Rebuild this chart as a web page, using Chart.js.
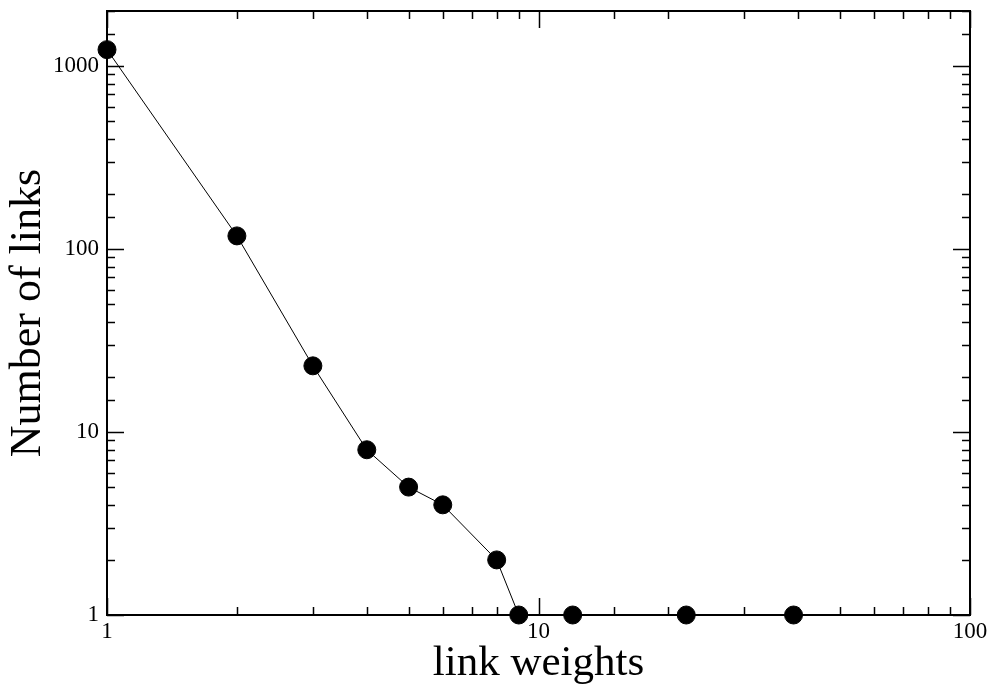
<!DOCTYPE html>
<html>
<head>
<meta charset="utf-8">
<script src="https://cdn.jsdelivr.net/npm/chart.js@4"></script>
<style>
  html, body { margin: 0; padding: 0; background: #fff; }
  #wrap { width: 991px; height: 688px; }
</style>
</head>
<body>
<div id="wrap"><canvas id="weights-chart"></canvas></div>
<script>
// link weight distribution (log-log)
var weights = [1, 2, 3, 4, 5, 6, 8, 9, 12, 22, 39];
var linkCounts = [1230, 118, 23, 8, 5, 4, 2, 1, 1, 1, 1];
var xRange = [1, 100];
var yRange = [1, 2000];
var xTitle = "link weights";
var yTitle = "Number of links";

var points = weights.map(function(w, i){ return {x: w, y: linkCounts[i]}; });

function isDecade(v){
    var l = Math.log10(v);
    return Math.abs(l - Math.round(l)) < 1e-9;
}

// inward ticks on all four sides (xmgrace style)
var innerTicks = {
    id: "innerTicks",
    afterDraw: function(chart){
        var ctx = chart.ctx, a = chart.chartArea;
        var xs = chart.scales.x, ys = chart.scales.y;
        ctx.save();
        ctx.strokeStyle = "#000";
        ctx.lineWidth = 1.5;
        ctx.beginPath();
        xs.ticks.forEach(function(t){
            var px = Math.round(xs.getPixelForValue(t.value)) + 0.5;
            var len = isDecade(t.value) ? 17 : 8;
            ctx.moveTo(px, a.bottom); ctx.lineTo(px, a.bottom - len);
            ctx.moveTo(px, a.top); ctx.lineTo(px, a.top + len);
        });
        ys.ticks.forEach(function(t){
            var py = Math.round(ys.getPixelForValue(t.value)) + 0.5;
            var len = isDecade(t.value) ? 17 : 8;
            ctx.moveTo(a.left, py); ctx.lineTo(a.left + len, py);
            ctx.moveTo(a.right, py); ctx.lineTo(a.right - len, py);
        });
        ctx.stroke();
        ctx.lineWidth = 2;
        ctx.strokeRect(a.left, a.top, a.right - a.left, a.bottom - a.top);
        ctx.restore();
    }
};

var labelFont = {family: "'Liberation Serif', 'Times New Roman', serif", size: 23};
var titleFont = {family: "'Liberation Serif', 'Times New Roman', serif", size: 43, lineHeight: 1.1};

var config = {
    type: "scatter",
    data: {
        datasets: [{
            data: points,
            showLine: true,
            borderColor: "#000",
            borderWidth: 1,
            backgroundColor: "#000",
            pointRadius: 9,
            pointHoverRadius: 9,
            clip: false
        }]
    },
    options: {
        responsive: true,
        maintainAspectRatio: false,
        animation: false,
        layout: { padding: { top: 11, right: 21, left: 0, bottom: 0 } },
        plugins: { legend: { display: false }, tooltip: { enabled: false } },
        scales: {
            x: {
                type: "logarithmic",
                position: "bottom",
                min: xRange[0],
                max: xRange[1],
                grid: { display: false, drawTicks: false },
                border: { display: false },
                afterFit: function(s){ s.height = 73; s.paddingLeft = 0; s.paddingRight = 0; },
                ticks: {
                    autoSkip: false,
                    maxRotation: 0,
                    padding: 3,
                    color: "#000",
                    font: labelFont,
                    callback: function(v){ return isDecade(v) ? String(v) : ""; }
                },
                title: { display: true, text: xTitle, color: "#000", font: titleFont, padding: {top: 0, bottom: 1} }
            },
            y: {
                type: "logarithmic",
                position: "left",
                min: yRange[0],
                max: yRange[1],
                grid: { display: false, drawTicks: false },
                border: { display: false },
                afterFit: function(s){ s.width = 107; s.paddingTop = 0; s.paddingBottom = 0; },
                ticks: {
                    autoSkip: false,
                    padding: 8,
                    color: "#000",
                    font: labelFont,
                    callback: function(v){ return isDecade(v) ? String(v) : ""; }
                },
                title: { display: true, text: yTitle, color: "#000",
                         font: {family: titleFont.family, size: 44, lineHeight: 1.1}, padding: {top: 4, bottom: 0} }
            }
        }
    },
    plugins: [innerTicks]
};

var weightsChart = new Chart(document.getElementById("weights-chart"), config);
</script>
</body>
</html>
